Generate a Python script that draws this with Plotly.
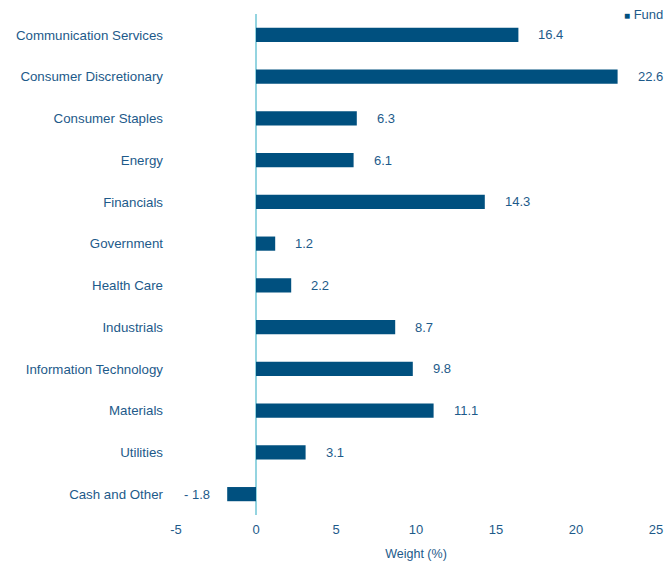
import plotly.graph_objects as go

categories = ["Communication Services", "Consumer Discretionary", "Consumer Staples", "Energy",
              "Financials", "Government", "Health Care", "Industrials",
              "Information Technology", "Materials", "Utilities", "Cash and Other"]
fund = [16.4, 22.6, 6.3, 6.1, 14.3, 1.2, 2.2, 8.7, 9.8, 11.1, 3.1, -1.8]
x_ticks = [-5, 0, 5, 10, 15, 20, 25]
x_tick_labels = ["-5", "0", "5", "10", "15", "20", "25"]
series_name = "Fund"

BAR = "#00507f"
TXT = "#1d5a8a"
FONT = "Liberation Sans, Arial, sans-serif"

fig = go.Figure()
fig.add_trace(go.Bar(y=categories, x=fund, orientation="h", name=series_name,
                     marker=dict(color=BAR, line=dict(width=0)),
                     showlegend=False, hoverinfo="x+y"))

for c, v in zip(categories, fund):
    label = f"{v:.1f}" if v >= 0 else f"- {abs(v):.1f}"
    fig.add_annotation(x=v, y=c, text=label, showarrow=False,
                       xanchor="left" if v >= 0 else "right",
                       xshift=18 if v >= 0 else -15,
                       font=dict(color=TXT, size=13, family=FONT))

# legend entry
fig.add_annotation(xref="paper", yref="paper", x=0.929, y=1.0, xanchor="left", yanchor="middle",
                   showarrow=False,
                   text=f"<span style='font-size:10px;color:{BAR}'>■</span> {series_name}",
                   font=dict(color=TXT, size=13, family=FONT))

fig.update_layout(
    width=665, height=562,
    margin=dict(l=176, r=9, t=14, b=47, autoexpand=False),
    plot_bgcolor="white", paper_bgcolor="white",
    font=dict(family=FONT, color=TXT, size=13),
    bargap=0.66,
    showlegend=False,
    xaxis=dict(range=[-5, 25], tickvals=x_ticks, ticktext=x_tick_labels, showgrid=False, zeroline=True,
               zerolinecolor="#94d4e0", zerolinewidth=2, showline=False, ticks="",
               ticklabelstandoff=5,
               tickfont=dict(size=13, color=TXT),
               title=dict(text="Weight (%)", font=dict(size=12.5, color=TXT), standoff=13)),
    yaxis=dict(autorange="reversed", showgrid=False, showline=False, ticks="",
               ticklabelstandoff=12, tickfont=dict(size=13.3, color=TXT)),
)
fig.write_html("out.html", config={"displayModeBar": False},
               post_script="document.body.style.margin='0px';document.body.style.overflow='hidden';")
